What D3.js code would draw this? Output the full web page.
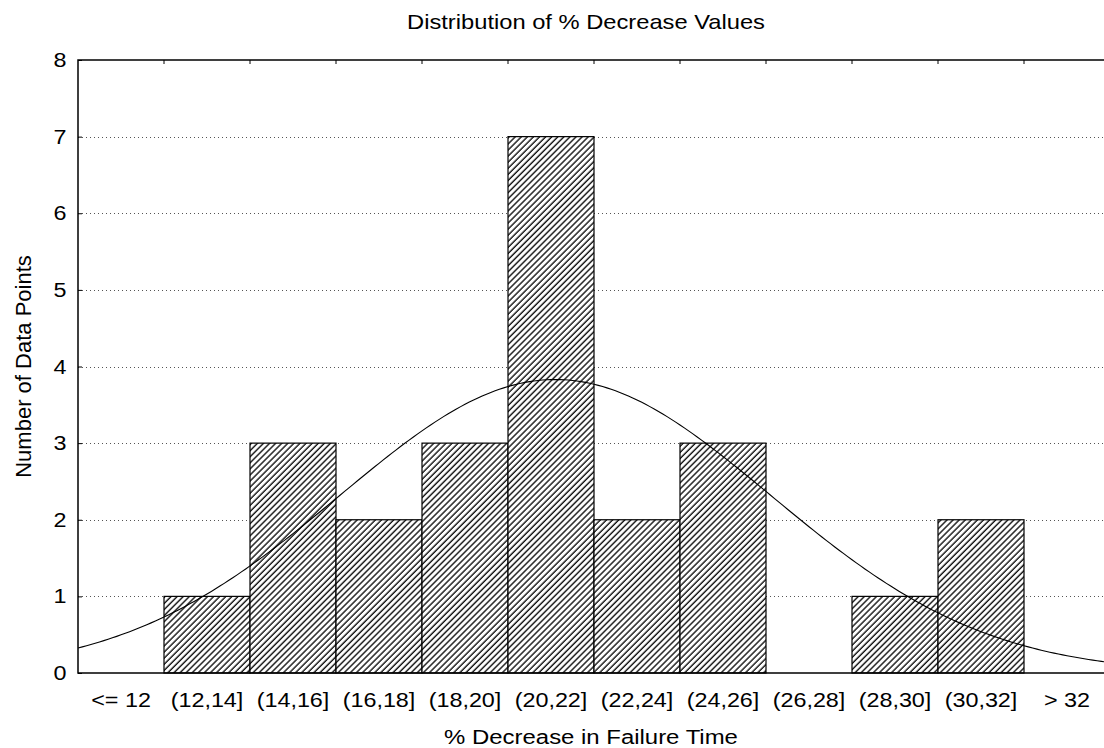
<!DOCTYPE html>
<html>
<head>
<meta charset="utf-8">
<script src="https://cdn.jsdelivr.net/npm/d3@7"></script>
<style>
  body { margin: 0; background: #fff; }
  text { font-family: Arial, "Liberation Sans", Helvetica, sans-serif; fill: #000; }
</style>
</head>
<body>
<div id="chart"></div>
<script>
// bins and counts
var categories = ["<= 12", "(12,14]", "(14,16]", "(16,18]", "(18,20]", "(20,22]",
                  "(22,24]", "(24,26]", "(26,28]", "(28,30]", "(30,32]", "> 32"];
var counts = [0, 1, 3, 2, 3, 7, 2, 3, 0, 1, 2, 0];
var yTicks = [0, 1, 2, 3, 4, 5, 6, 7, 8];

// fitted normal curve parameters (estimated)
var fitMean = 21.1,
    fitSd = 5.0,
    binWidth = 2,
    valueMin = 10,
    valueMax = 34;

var width = 1104,
    height = 748,
    plotLeft = 78,
    plotRight = 1110,
    plotTop = 60,
    plotBottom = 673,
    stretch = "scale(1.14,1)";

var svg = d3.select("#chart")
            .append("svg")
            .attr("width", width)
            .attr("height", height);

var defs = svg.append("defs");

defs.append("pattern")
    .attr("id", "hatch")
    .attr("patternUnits", "userSpaceOnUse")
    .attr("width", 4.3)
    .attr("height", 4.3)
    .attr("patternTransform", "rotate(45)")
    .call(p => {
      p.append("rect").attr("width", 4.3).attr("height", 4.3).attr("fill", "#fff");
      p.append("line")
       .attr("x1", 1).attr("x2", 1)
       .attr("y1", 0).attr("y2", 4.3)
       .attr("stroke", "#000")
       .attr("stroke-width", 1.3);
    });

defs.append("clipPath")
    .attr("id", "plot-clip")
    .append("rect")
    .attr("x", plotLeft)
    .attr("y", plotTop)
    .attr("width", plotRight - plotLeft)
    .attr("height", plotBottom - plotTop);

var x = d3.scaleBand()
          .domain(categories)
          .range([plotLeft, plotRight])
          .padding(0);

var xv = d3.scaleLinear()
           .domain([valueMin, valueMax])
           .range([plotLeft, plotRight]);

var y = d3.scaleLinear()
          .domain([0, 8])
          .range([plotBottom, plotTop]);

// dotted grid
svg.append("g")
   .selectAll("line")
   .data(yTicks.filter(d => d > 0 && d < 8))
   .enter()
   .append("line")
   .attr("x1", plotLeft)
   .attr("x2", plotRight)
   .attr("y1", d => Math.round(y(d)) + 0.5)
   .attr("y2", d => Math.round(y(d)) + 0.5)
   .attr("stroke", "#555")
   .attr("stroke-width", 1)
   .attr("stroke-dasharray", "1,3");

// bars
svg.append("g")
   .selectAll("rect")
   .data(categories.map((c, i) => ({cat: c, count: counts[i]})).filter(d => d.count > 0))
   .enter()
   .append("rect")
   .attr("x", d => x(d.cat))
   .attr("y", d => y(d.count))
   .attr("width", x.bandwidth())
   .attr("height", d => plotBottom - y(d.count))
   .attr("fill", "url(#hatch)")
   .attr("stroke", "#000")
   .attr("stroke-width", 1.2);

// normal curve
var total = d3.sum(counts);
var curveData = d3.range(valueMin, valueMax + 0.05, 0.1).map(v => {
  var z = (v - fitMean) / fitSd;
  return [v, total * binWidth / (fitSd * Math.sqrt(2 * Math.PI)) * Math.exp(-0.5 * z * z)];
});

svg.append("path")
   .datum(curveData)
   .attr("clip-path", "url(#plot-clip)")
   .attr("fill", "none")
   .attr("stroke", "#000")
   .attr("stroke-width", 1.1)
   .attr("d", d3.line().x(d => xv(d[0])).y(d => y(d[1])));

// frame
svg.append("path")
   .attr("d", `M${plotRight},${plotTop}H${plotLeft}V${plotBottom}H${plotRight}`)
   .attr("fill", "none")
   .attr("stroke", "#000")
   .attr("stroke-width", 1.5);

// axes
var yAxis = d3.axisLeft(y)
              .tickValues(yTicks)
              .tickSize(-4)
              .tickPadding(10)
              .tickFormat(d3.format("d"));

svg.append("g")
   .attr("transform", `translate(${plotLeft},0)`)
   .call(yAxis)
   .call(g => g.select(".domain").remove())
   .call(g => g.selectAll("line").attr("stroke", "#000"))
   .call(g => g.selectAll("text")
               .attr("font-family", null)
               .attr("transform", stretch)
               .style("font-size", "20.5px"));

var topTicks = categories.slice(1).map(c => x(c));
svg.append("g")
   .selectAll("line")
   .data(topTicks)
   .enter()
   .append("line")
   .attr("x1", d => d)
   .attr("x2", d => d)
   .attr("y1", plotTop)
   .attr("y2", plotTop + 4)
   .attr("stroke", "#000")
   .attr("stroke-width", 1);

var xAxis = d3.axisBottom(x)
              .tickSize(0)
              .tickPadding(19);

svg.append("g")
   .attr("transform", `translate(0,${plotBottom})`)
   .call(xAxis)
   .call(g => g.select(".domain").remove())
   .call(g => g.selectAll("text")
               .attr("font-family", null)
               .attr("transform", stretch)
               .style("font-size", "20.5px"));

// titles
svg.append("text")
   .attr("transform", `translate(586,29) ${stretch}`)
   .attr("text-anchor", "middle")
   .style("font-size", "20.8px")
   .text("Distribution of % Decrease Values");

svg.append("text")
   .attr("transform", `translate(591,744) ${stretch}`)
   .attr("text-anchor", "middle")
   .style("font-size", "21px")
   .text("% Decrease in Failure Time");

svg.append("text")
   .attr("transform", `translate(31,${(plotTop + plotBottom) / 2}) rotate(-90)`)
   .attr("text-anchor", "middle")
   .style("font-size", "22px")
   .text("Number of Data Points");
</script>
</body>
</html>
